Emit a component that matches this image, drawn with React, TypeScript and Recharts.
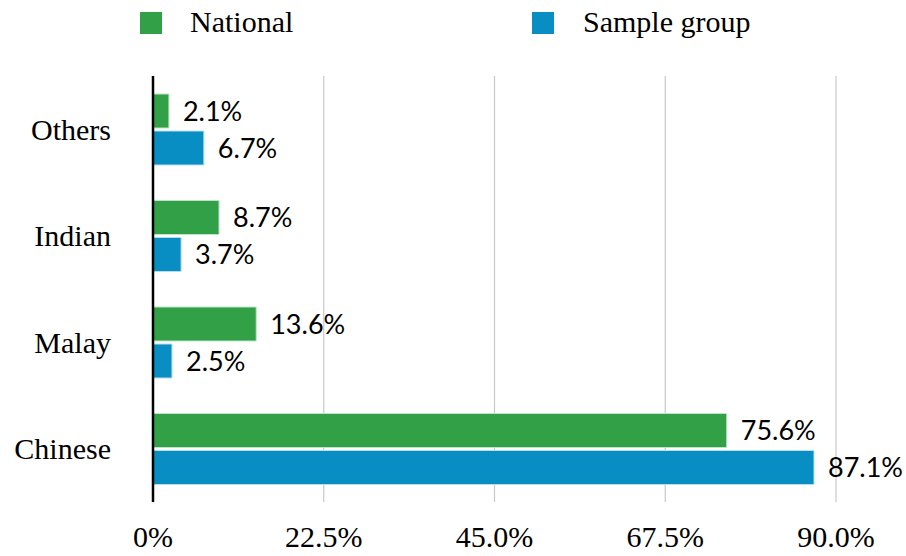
import React from 'react';
import {
    BarChart,
    Bar,
    XAxis,
    YAxis,
    CartesianGrid,
    Legend,
    LabelList
} from 'recharts';

const categories = ['Others', 'Indian', 'Malay', 'Chinese'];
const nationalValues = [2.1, 8.7, 13.6, 75.6];
const sampleValues = [6.7, 3.7, 2.5, 87.1];
const xTicks = [0, 22.5, 45, 67.5, 90];

const GREEN = '#31a046';
const BLUE = '#088ec2';
const SERIF = '"Liberation Serif", "DejaVu Serif", serif';
const SANS = 'Lato, "Noto Sans", sans-serif';

const data = categories.map((name, i) => ({
    name,
    national: nationalValues[i],
    sample: sampleValues[i]
}));

// legend sits at fixed spots, like the original
const LegendContent = () => (
    <div style={{ position: 'relative', width: 906, height: 50, fontFamily: SERIF, fontSize: 30, color: '#000' }}>
        <div style={{ position: 'absolute', left: 140, top: 12, width: 22, height: 22, background: GREEN }} />
        <div style={{ position: 'absolute', left: 190, top: 4, lineHeight: '36px' }}>National</div>
        <div style={{ position: 'absolute', left: 532, top: 12, width: 22, height: 22, background: BLUE }} />
        <div style={{ position: 'absolute', left: 583, top: 4, lineHeight: '36px' }}>Sample group</div>
    </div>
);

const formatTick = (v: number) => (v === 0 ? '0%' : `${v.toFixed(1)}%`);

export default function App() {
    return (
        <div style={{ position: 'absolute', left: 0, top: 0, width: 906, height: 556, background: '#fff' }}>
            <BarChart
                width={906}
                height={556}
                data={data}
                layout="vertical"
                margin={{ top: 26, right: 70, bottom: 24, left: 0 }}
                barSize={34}
                barGap={3}
            >
                <CartesianGrid horizontal={false} stroke="#c8c8c8" strokeWidth={1.2} />
                <XAxis
                    type="number"
                    domain={[0, 90]}
                    ticks={xTicks}
                    tickFormatter={formatTick}
                    axisLine={false}
                    tickLine={false}
                    tickSize={0}
                    tickMargin={24}
                    height={30}
                    tick={{ fontSize: 30, fill: '#000', fontFamily: SERIF }}
                    interval={0}
                />
                <YAxis
                    type="category"
                    dataKey="name"
                    width={153}
                    axisLine={{ stroke: '#000', strokeWidth: 2.5 }}
                    tickLine={false}
                    tickSize={0}
                    tickMargin={42}
                    tick={{ fontSize: 30, fill: '#000', fontFamily: SERIF }}
                />
                <Legend verticalAlign="top" height={50} wrapperStyle={{ top: 0, left: 0 }} content={() => <LegendContent />} />
                <Bar dataKey="national" name="National" fill={GREEN} stroke="#bfe3c6" strokeWidth={1} isAnimationActive={false}>
                    <LabelList
                        dataKey="national"
                        position="right"
                        offset={14}
                        formatter={(v: number) => `${v}%`}
                        style={{ fontSize: 27, fill: '#000', fontFamily: SANS }}
                    />
                </Bar>
                <Bar dataKey="sample" name="Sample group" fill={BLUE} stroke="#b9dcec" strokeWidth={1} isAnimationActive={false}>
                    <LabelList
                        dataKey="sample"
                        position="right"
                        offset={14}
                        formatter={(v: number) => `${v}%`}
                        style={{ fontSize: 27, fill: '#000', fontFamily: SANS }}
                    />
                </Bar>
            </BarChart>
        </div>
    );
}
